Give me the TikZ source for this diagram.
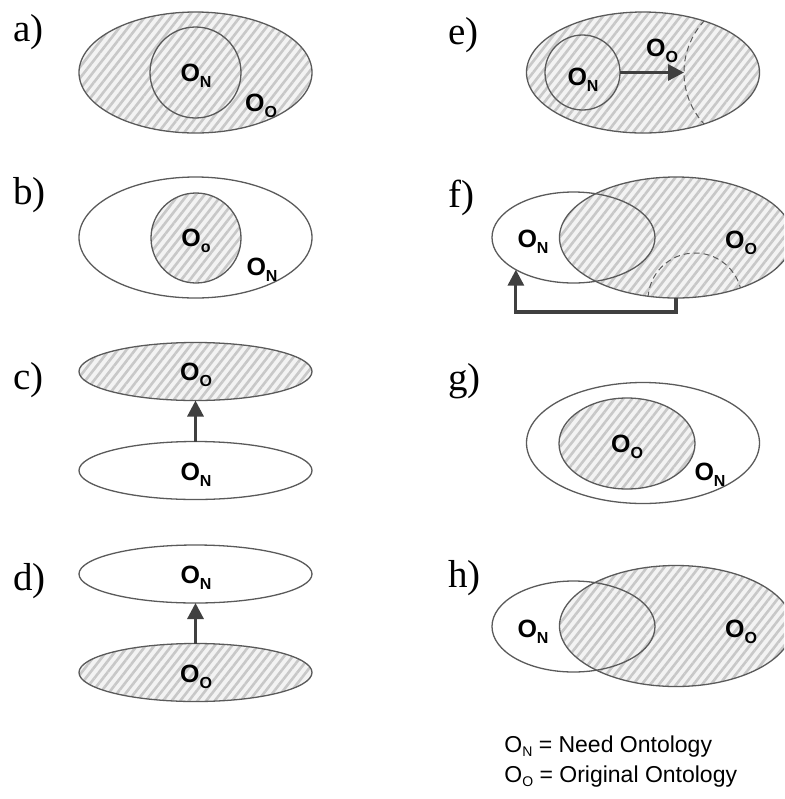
\documentclass[tikz,border=0pt]{standalone}
\usepackage{fontspec}
\setmainfont{Liberation Serif}
\setsansfont{Liberation Sans}
\usetikzlibrary{arrows.meta,positioning,shapes.geometric,patterns.meta}
\definecolor{SetLine}{HTML}{5A5A5A}
\definecolor{ArrowGray}{HTML}{404040}
\definecolor{HatchLine}{HTML}{C8C8C8}
\definecolor{HatchBack}{HTML}{F3F3F3}
\newcommand{\osub}[1]{O\raisebox{-3pt}{\fontsize{8}{9}\selectfont#1}}
\newcommand{\lsub}[1]{O\raisebox{-2.2pt}{\fontsize{7}{8}\selectfont#1}}
\tikzset{ontoset/.style={ellipse,draw=SetLine,line width=.65pt,inner sep=0pt,outer sep=0pt},
hatch/.style={preaction={fill=HatchBack},pattern={Lines[angle=52,distance=3.4pt,line width=1.3pt]},pattern color=HatchLine},
big/.style={ontoset,minimum width=116.5pt,minimum height=60.5pt},
flat/.style={ontoset,minimum width=116.5pt,minimum height=29pt},
part/.style={ontoset,minimum width=81.5pt,minimum height=45.5pt},
panel/.style={anchor=base west,inner sep=0pt,font=\fontsize{19.5}{20}\selectfont},
onto/.style={inner sep=0pt,font=\sffamily\bfseries\fontsize{12.5}{14}\selectfont},
key/.style={anchor=base west,inner sep=0pt,font=\sffamily\fontsize{11.5}{13}\selectfont},
arr/.style={-{Triangle[length=8pt,width=8pt]},line width=1.6pt,ArrowGray},
cut/.style={dash pattern=on 3pt off 2pt,line width=.5pt,SetLine}}
\begin{document}
\begin{tikzpicture}[x=.5pt,y=-.5pt]
\clip (0,0) rectangle (784,799);
\node[big,hatch] (aO) at (195.5,72.5) {};
\node[ontoset,circle,minimum size=45.5pt] (aN) at (aO) {};
\node[onto] (aNl) at (196,76) {\osub{N}};
\node[onto] (aOl) at (261,106) {\osub{O}};
\node[panel] (ta) at (13,41) {a)};
\node[big] (bN) at (195.5,237.5) {};
\node[ontoset,circle,hatch,minimum size=45pt] (bO) at (196,238) {};
\node[onto] (bOl) at (196,241) {\osub{o}};
\node[onto] (bNl) at (262,270) {\osub{N}};
\node[panel] (tb) at (13,204) {b)};
\node[flat,hatch] (cO) at (195.5,371.5) {};
\node[flat] (cN) at (195.5,470.5) {};
\draw[arr] (cN) -- (cO);
\node[onto] (cOl) at (196,375) {\osub{O}};
\node[onto] (cNl) at (196,475) {\osub{N}};
\node[panel] (tc) at (13,389) {c)};
\node[flat] (dN) at (195.5,574) {};
\node[flat,hatch] (dO) at (195.5,672.5) {};
\draw[arr] (dO) -- (dN);
\node[onto] (dNl) at (196,578) {\osub{N}};
\node[onto] (dOl) at (196,677) {\osub{O}};
\node[panel] (td) at (13,590) {d)};
\node[big,hatch] (eO) at (643,72.5) {};
\node[ontoset,circle,minimum size=37.5pt] (eN) at (582.5,72.5) {};
\coordinate (eCut) at (684,72.5);
\begin{scope}
\clip (643,72.5) ellipse [x radius=116.5,y radius=60.5];
\draw[cut] (760,72.5) circle [radius=76];
\end{scope}
\draw[arr] (eN) -- (eCut);
\node[onto] (eNl) at (583,80) {\osub{N}};
\node[onto] (eOl) at (662,51) {\osub{O}};
\node[panel] (te) at (448,44) {e)};
\node[big,hatch] (fO) at (676,237.5) {};
\begin{scope}
\clip (676,237.5) ellipse [x radius=116.5,y radius=60.5];
\draw[cut] (695,300) circle [radius=47];
\end{scope}
\node[part] (fN) at (573.5,237.5) {};
\draw[arr] (fO.south) -- ++(0,14) -| (fN.south west);
\node[onto] (fNl) at (533,242) {\osub{N}};
\node[onto] (fOl) at (741,243) {\osub{O}};
\node[panel] (tf) at (448,207) {f)};
\node[big] (gN) at (643,443) {};
\node[ontoset,hatch,minimum width=68pt,minimum height=45.5pt] (gO) at (627,443.5) {};
\node[onto] (gOl) at (627,447) {\osub{O}};
\node[onto] (gNl) at (710,475) {\osub{N}};
\node[panel] (tg) at (448,390) {g)};
\node[big,hatch] (hO) at (676,626) {};
\node[part] (hN) at (573.5,626.5) {};
\node[onto] (hNl) at (533,632) {\osub{N}};
\node[onto] (hOl) at (741,632) {\osub{O}};
\node[panel] (th) at (448,587) {h)};
\node[key] (keyN) at (504,752) {\lsub{N} = Need Ontology};
\node[key] (keyO) at (504,782) {\lsub{O} = Original Ontology};
\end{tikzpicture}
\end{document}
